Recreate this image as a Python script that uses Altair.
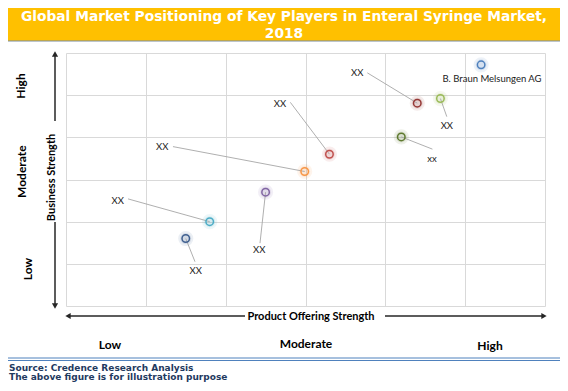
import altair as alt
import pandas as pd

# ---- data ----
names = ["XX", "XX", "XX", "XX", "XX", "xx", "XX", "XX", "B. Braun Melsungen AG"]
colors = ["#3f5f8f", "#4bacc6", "#8064a2", "#f79646", "#c0504d",
          "#5f7a30", "#953735", "#9bbb59", "#4f81bd"]
px = [1.50, 1.80, 2.50, 2.99, 3.30, 4.20, 4.40, 4.69, 5.20]   # product offering strength
py = [1.60, 2.00, 2.70, 3.19, 3.60, 4.01, 4.81, 4.92, 5.72]   # business strength
lx = [1.625, 0.647, 2.42, 1.206, 2.68, 4.585, 3.648, 4.77, 5.336]  # label x
ly = [0.84, 2.50, 1.32, 3.76, 4.80, 3.48, 5.52, 4.28, 5.38]       # label y
ex = [1.616, 0.777, 2.43, 1.34, 2.81, 4.59, 3.774, 4.77, None]    # leader end x
ey = [1.05, 2.54, 1.49, 3.78, 4.83, 3.72, 5.53, 4.49, None]       # leader end y
grid_vals = [0, 1, 2, 3, 4, 5, 6]
y_levels = ["High", "Moderate", "Low"]
x_levels = ["Low", "Moderate", "High"]
title_lines = ["Global Market Positioning of Key Players in Enteral Syringe Market,", "2018"]
source_lines = ["Source: Credence Research Analysis", "The above figure is for illustration purpose"]

df = pd.DataFrame({"name": names, "color": colors, "x": px, "y": py,
                   "lx": lx, "ly": ly, "ex": ex, "ey": ey})
lead = df.dropna()

W, H = 479, 253
xs = alt.Scale(domain=[0, 6], nice=False, zero=False)
ys = alt.Scale(domain=[0, 6], nice=False, zero=False)
gax = alt.Axis(values=grid_vals, grid=True, labels=False, ticks=False, domain=False,
               title=None, gridColor="#d9d9d9", gridWidth=1)

one = pd.DataFrame({"a": [0]})
LAB_FONT = "Lato"
AX = "#262626"
R = 494  # right edge of the drawable area (view coords)


def rule(x1, y1, x2, y2, color=AX, w=1.5):
    return alt.Chart(one).mark_rule(color=color, strokeWidth=w).encode(
        x=alt.value(x1), y=alt.value(y1), x2=alt.value(x2), y2=alt.value(y2))


def txt(t, x, y, size, color="black", weight="bold", font=LAB_FONT, angle=0,
        align="center", baseline="middle"):
    return alt.Chart(one).mark_text(text=t, fontSize=size, color=color, fontWeight=weight,
                                    font=font, angle=angle, align=align,
                                    baseline=baseline).encode(x=alt.value(x), y=alt.value(y))


def tri(shape, x, y):
    return alt.Chart(one).mark_point(shape=shape, filled=True, size=38, color=AX,
                                     opacity=1).encode(x=alt.value(x), y=alt.value(y))


# title band
band = alt.Chart(one).mark_rect(color="#ffc000").encode(
    x=alt.value(-58), x2=alt.value(R), y=alt.value(-45), y2=alt.value(-12))
band_line = rule(-58, -12, R, -12, color="#7a8b9c", w=1.2)
t1 = txt(title_lines[0], 218, -32.5, 13.8, color="white", font="DejaVu Sans",
         baseline="alphabetic")
t2 = txt(title_lines[1], 218, -15.5, 13.8, color="white", font="DejaVu Sans",
         baseline="alphabetic")

# points layers
base = alt.Chart(df).encode(x=alt.X("x:Q", scale=xs, axis=gax),
                            y=alt.Y("y:Q", scale=ys, axis=gax),
                            color=alt.Color("color:N", scale=None))
halo1 = base.mark_circle(size=230, opacity=0.10)
halo2 = base.mark_circle(size=120, opacity=0.14)
ring = base.mark_point(shape="circle", filled=False, size=56, strokeWidth=1.5, opacity=1)
leaders = alt.Chart(lead).mark_rule(color="#a6a6a6", strokeWidth=0.9).encode(
    x=alt.X("ex:Q", scale=xs), y=alt.Y("ey:Q", scale=ys), x2="x:Q", y2="y:Q")
labels = alt.Chart(df).mark_text(fontSize=9.5, font=LAB_FONT, color="#1a1a1a").encode(
    x=alt.X("lx:Q", scale=xs), y=alt.Y("ly:Q", scale=ys), text="name:N")

# axis arrows
ya1 = rule(-11, 2, -11, 68)
ya2 = rule(-11, 169, -11, 252)
yh1 = tri("triangle-up", -11, 1)
yh2 = tri("triangle-down", -11, 253)
ytitle = txt("Business Strength", -14.5, 124.5, 11, angle=270)
xa1 = rule(2, 263, 179, 263)
xa2 = rule(319, 263, 478, 263)
xh1 = tri("triangle-left", 2, 263)
xh2 = tri("triangle-right", 478, 263)
xtitle = txt("Product Offering Strength", 245, 264, 11)

# level labels
yl = [txt(y_levels[0], -45, 33, 12, angle=270),
      txt(y_levels[1], -44, 118.7, 12, angle=270),
      txt(y_levels[2], -38.3, 216, 12, angle=270)]
xl = [txt(x_levels[0], 44, 292, 12),
      txt(x_levels[1], 240, 291, 12),
      txt(x_levels[2], 424, 293, 12)]

# footer
fl1 = rule(-58, 305, R, 305, color="#4f81bd", w=1)
fl2 = rule(-58, 307.5, R, 307.5, color="#4f81bd", w=1)
s1 = txt(source_lines[0], -57, 317.5, 9, color="#1f3a5f", font="DejaVu Sans",
         align="left", baseline="alphabetic")
s2 = txt(source_lines[1], -57, 327, 9, color="#1f3a5f", font="DejaVu Sans",
         align="left", baseline="alphabetic")

chart = alt.layer(
    band, band_line, t1, t2,
    halo1, halo2, leaders, ring, labels,
    ya1, ya2, yh1, yh2, ytitle, xa1, xa2, xh1, xh2, xtitle,
    *yl, *xl, fl1, fl2, s1, s2
).properties(
    width=W, height=H,
    padding={"left": 58, "top": 45, "right": 15, "bottom": 77},
    autosize=alt.AutoSizeParams(type="none"),
    background="white",
).configure_view(stroke=None)

chart.save("out.html", embed_options={"renderer": "svg", "actions": False})
